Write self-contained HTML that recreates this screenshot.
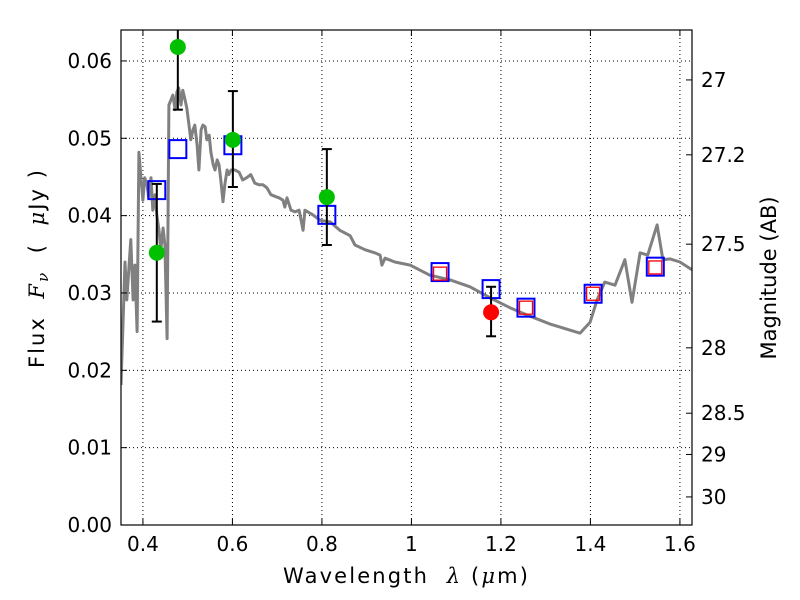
<!DOCTYPE html>
<html><head><meta charset="utf-8"><style>
body{margin:0;background:#fff}
svg{display:block;font-family:"DejaVu Sans","Liberation Sans",sans-serif}
.pre{white-space:pre}
</style></head><body>
<svg id="chart" width="800" height="600" xmlns="http://www.w3.org/2000/svg">
<rect width="800" height="600" fill="#fff"/>
<g id="grid"></g>
<g id="spec"></g>
<g id="marks"></g>
<rect x="121" y="30" width="571" height="495" fill="none" stroke="#000" stroke-width="1.2"/>
<g id="axes"></g>
<text class="pre" x="283" y="583" font-size="21" textLength="245" lengthAdjust="spacing">Wavelength  <tspan font-style="italic" font-family="DejaVu Serif,serif">λ</tspan> (<tspan font-style="italic" font-family="DejaVu Serif,serif">μ</tspan>m)</text>
<text class="pre" transform="translate(44,368) rotate(-90)" font-size="21" textLength="198" lengthAdjust="spacing">Flux  <tspan font-style="italic" font-family="DejaVu Serif,serif">F<tspan font-size="15" dy="4">ν</tspan></tspan><tspan dy="-4">  (  </tspan><tspan font-style="italic" font-family="DejaVu Serif,serif">μ</tspan>Jy )</text>
<text transform="translate(776,278) rotate(-90)" font-size="21" text-anchor="middle">Magnitude (AB)</text>
</svg>
<script>
const specWave=[0.351,0.355,0.360,0.364,0.369,0.373,0.378,0.382,0.387,0.391,0.395,0.400,0.404,0.409,0.413,0.418,0.422,0.427,0.431,0.436,0.440,0.445,0.449,0.454,0.458,0.463,0.467,0.472,0.476,0.480,0.485,0.489,0.494,0.498,0.503,0.507,0.512,0.516,0.521,0.525,0.530,0.534,0.539,0.543,0.548,0.552,0.557,0.561,0.566,0.570,0.574,0.579,0.583,0.588,0.592,0.597,0.606,0.615,0.623,0.632,0.641,0.650,0.659,0.668,0.677,0.686,0.695,0.704,0.713,0.717,0.722,0.731,0.740,0.749,0.758,0.762,0.780,0.796,0.818,0.840,0.863,0.874,0.896,0.918,0.930,0.934,0.941,0.963,0.997,1.041,1.086,1.131,1.175,1.220,1.265,1.309,1.354,1.377,1.383,1.399,1.415,1.432,1.455,1.477,1.493,1.511,1.528,1.549,1.562,1.578,1.600,1.627];
const specFlux=[0.0181,0.0252,0.0340,0.0291,0.0336,0.0369,0.0291,0.0336,0.0250,0.0482,0.0453,0.0420,0.0449,0.0440,0.0423,0.0449,0.0407,0.0427,0.0401,0.0381,0.0356,0.0384,0.0362,0.0241,0.0543,0.0550,0.0556,0.0537,0.0560,0.0565,0.0543,0.0562,0.0550,0.0539,0.0517,0.0498,0.0511,0.0517,0.0491,0.0459,0.0511,0.0517,0.0515,0.0498,0.0504,0.0482,0.0466,0.0459,0.0472,0.0466,0.0446,0.0418,0.0440,0.0459,0.0453,0.0459,0.0459,0.0456,0.0446,0.0449,0.0453,0.0442,0.0440,0.0440,0.0436,0.0427,0.0425,0.0423,0.0420,0.0411,0.0423,0.0407,0.0405,0.0407,0.0381,0.0407,0.0401,0.0394,0.0392,0.0381,0.0374,0.0362,0.0356,0.0352,0.0349,0.0336,0.0345,0.0340,0.0336,0.0323,0.0317,0.0308,0.0294,0.0281,0.0270,0.0260,0.0252,0.0248,0.0252,0.0262,0.0291,0.0314,0.0310,0.0343,0.0288,0.0352,0.0349,0.0388,0.0343,0.0344,0.0340,0.0330];
const obsWave=[0.431,0.478,0.601,0.811,1.178];
const obsFlux=[0.0352,0.0618,0.0498,0.0424,0.0275];
const obsHi=[0.0441,0.0700,0.0561,0.0486,0.0308];
const obsLo=[0.0263,0.0537,0.0437,0.0362,0.0244];
const obsColor=['#00c000','#00c000','#00c000','#00c000','#ff0000'];
const modelWave=[0.431,0.478,0.601,0.811,1.064,1.178,1.256,1.406,1.545];
const modelFlux=[0.0433,0.0486,0.0491,0.0401,0.0327,0.0305,0.0281,0.0299,0.0334];
const redWave=[1.064,1.256,1.406,1.545];
const redFlux=[0.0325,0.0281,0.0299,0.0333];
const xTicks=[0.4,0.6,0.8,1.0,1.2,1.4,1.6];
const xTickLabels=['0.4','0.6','0.8','1','1.2','1.4','1.6'];
const yTicks=[0,0.01,0.02,0.03,0.04,0.05,0.06];
const yTickLabels=['0.00','0.01','0.02','0.03','0.04','0.05','0.06'];
const magTicks=[27,27.2,27.5,28,28.5,29,30];
const magLabels=['27','27.2','27.5','28','28.5','29','30'];

const L=121,R=692,T=30,B=525,X0=0.351,X1=1.627,Y0=0,Y1=0.064;
const sx=v=>L+(v-X0)/(X1-X0)*(R-L);
const sy=v=>B-(v-Y0)/(Y1-Y0)*(B-T);
const NS='http://www.w3.org/2000/svg';
function mk(tag,parent,attrs){const e=document.createElementNS(NS,tag);for(const k in attrs)e.setAttribute(k,attrs[k]);parent.appendChild(e);return e;}
const grid=document.getElementById('grid'),axes=document.getElementById('axes'),spec=document.getElementById('spec'),marks=document.getElementById('marks');

xTicks.forEach((t,i)=>{const x=sx(t);
 const g=mk('line',grid,{x1:x,x2:x,y1:T,y2:B,stroke:'#000','stroke-width':1,'stroke-dasharray':'1,3'});
 
 
 mk('line',axes,{x1:x,x2:x,y1:B,y2:B-6,stroke:'#000'});
 mk('line',axes,{x1:x,x2:x,y1:T,y2:T+6,stroke:'#000'});
 const tx=mk('text',axes,{x:x,y:B+26,'font-size':20,'text-anchor':'middle'});tx.textContent=xTickLabels[i];
 
 
});
yTicks.forEach((t,i)=>{const y=sy(t);
 const g=mk('line',grid,{x1:L,x2:R,y1:y,y2:y,stroke:'#000','stroke-width':1,'stroke-dasharray':'1,3'});
 
 
 mk('line',axes,{x1:L,x2:L+6,y1:y,y2:y,stroke:'#000'});
 const tx=mk('text',axes,{x:L-9,y:y+7,'font-size':20,'text-anchor':'end'});tx.textContent=yTickLabels[i];
 
 
});
magTicks.forEach((m,i)=>{const y=sy(Math.pow(10,(23.9-m)/2.5));
 mk('line',axes,{x1:R,x2:R-6,y1:y,y2:y,stroke:'#000'});
 const tx=mk('text',axes,{x:R+9,y:y+7,'font-size':20});tx.textContent=magLabels[i];
 
 
});
let d='';specWave.forEach((w,i)=>{d+=(i?'L':'M')+sx(w).toFixed(1)+','+sy(specFlux[i]).toFixed(1);});
const cp=mk('clipPath',document.getElementById('chart'),{id:'clip'});mk('rect',cp,{x:L,y:T,width:R-L,height:B-T});
spec.setAttribute('clip-path','url(#clip)');marks.setAttribute('clip-path','url(#clip)');
const sp=mk('path',spec,{d:d,fill:'none',stroke:'#808080','stroke-width':3,'stroke-linejoin':'round'});


modelWave.forEach((w,i)=>{const x=sx(w),y=sy(modelFlux[i]);
 const r=mk('rect',marks,{x:x-8.5,y:y-9,width:17,height:18,fill:'none',stroke:'#0000ff','stroke-width':2});
 
 
});
redWave.forEach((w,i)=>{const x=sx(w),y=sy(redFlux[i]);
 const r=mk('rect',marks,{x:x-6.5,y:y-6.5,width:13,height:13,fill:'none',stroke:'#ff0000','stroke-width':1.3});
 
 
});
obsWave.forEach((w,i)=>{const x=sx(w);
 mk('line',marks,{x1:x,x2:x,y1:sy(obsHi[i]),y2:sy(obsLo[i]),stroke:'#000','stroke-width':2});
 mk('line',marks,{x1:x-5,x2:x+5,y1:sy(obsHi[i]),y2:sy(obsHi[i]),stroke:'#000','stroke-width':2});
 mk('line',marks,{x1:x-5,x2:x+5,y1:sy(obsLo[i]),y2:sy(obsLo[i]),stroke:'#000','stroke-width':2});
 const c=mk('circle',marks,{cx:x,cy:sy(obsFlux[i]),r:8,fill:obsColor[i]});
 
 
});
</script>
</body></html>
